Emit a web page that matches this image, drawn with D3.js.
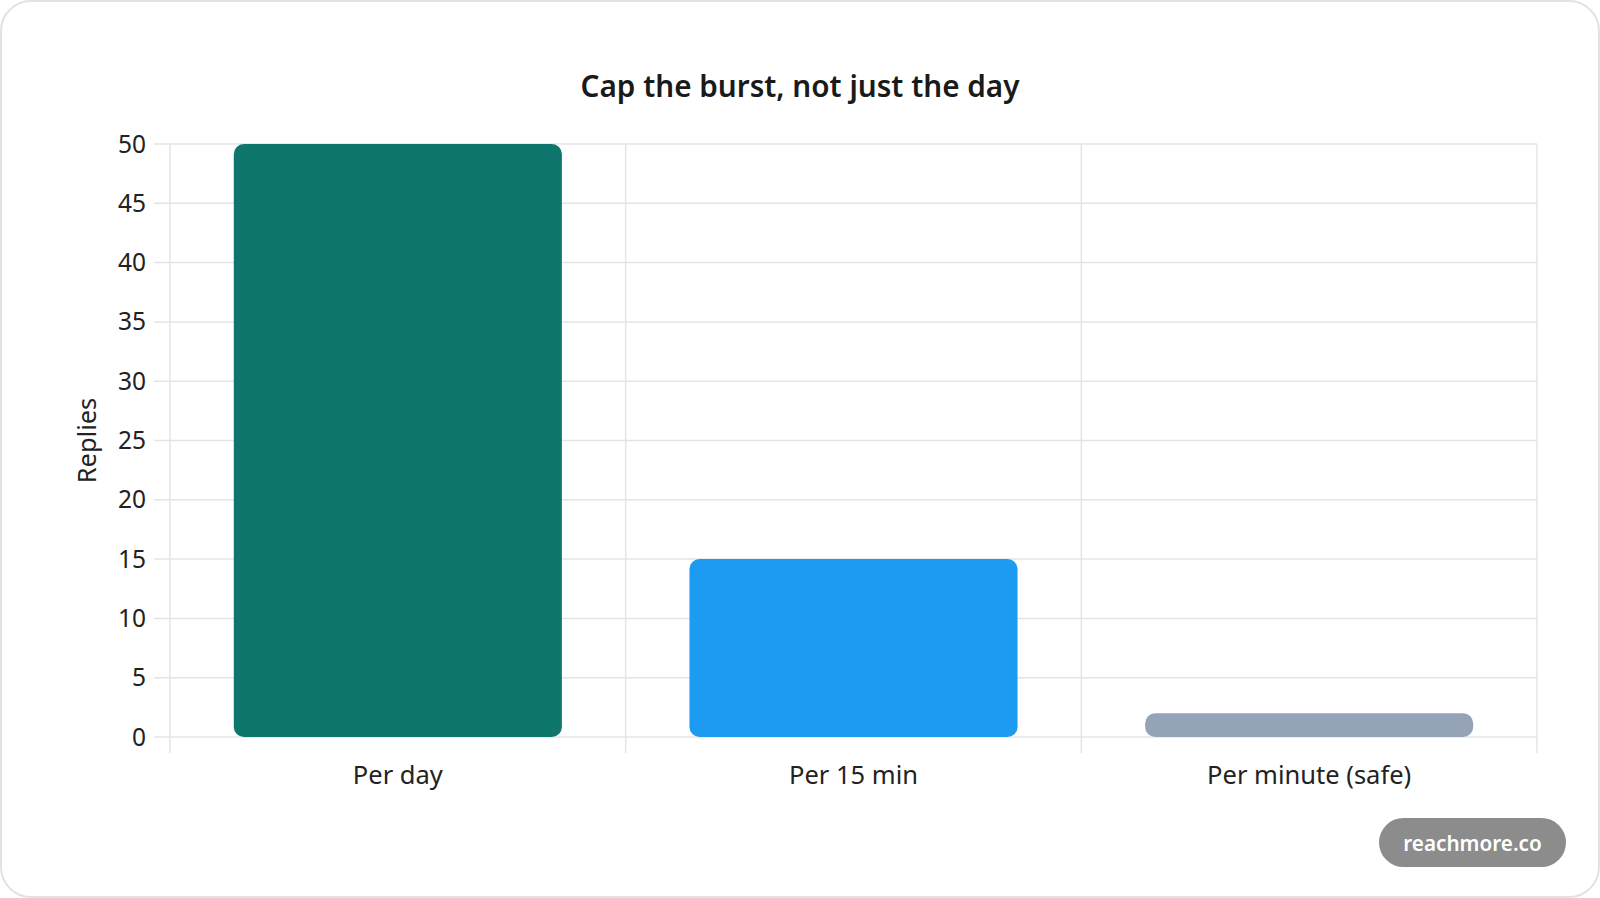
<!DOCTYPE html>
<html>
<head>
<meta charset="utf-8">
<script src="https://cdn.jsdelivr.net/npm/d3@7"></script>
<style>
  html, body { margin: 0; padding: 0; background: #ffffff; }
  svg { display: block; }
  text { font-family: "Noto Sans", "Open Sans", sans-serif; }
</style>
</head>
<body>
<svg id="chart" width="1600" height="898"></svg>
<script>
const categories = ["Per day", "Per 15 min", "Per minute (safe)"];
const replies = [50, 15, 2];
const barColors = ["#0F766E", "#1D9BF0", "#94A3B8"];
const yTicks = [0, 5, 10, 15, 20, 25, 30, 35, 40, 45, 50];
const titleText = "Cap the burst, not just the day";
const yAxisTitle = "Replies";
const watermark = "reachmore.co";

const W = 1600, H = 898;
const plot = { left: 170, right: 1537, top: 144, bottom: 737 };
const tickLen = 16;

const svg = d3.select("#chart");

// card
svg.append("rect")
  .attr("x", 1).attr("y", 1).attr("width", W - 2).attr("height", H - 2)
  .attr("rx", 30).attr("ry", 30)
  .attr("fill", "#ffffff").attr("stroke", "#e2e2e2").attr("stroke-width", 2);

const x = d3.scaleBand().domain(categories).range([plot.left, plot.right]).padding(0);
const y = d3.scaleLinear().domain([0, 50]).range([plot.bottom, plot.top]);

const grid = svg.append("g");
grid.selectAll("line.h").data(yTicks).join("line")
  .attr("x1", plot.left - tickLen).attr("x2", plot.right)
  .attr("y1", d => y(d)).attr("y2", d => y(d))
  .attr("stroke", "#e4e4e4").attr("stroke-width", 1.5);
const edges = categories.map(c => x(c)).concat([plot.right]);
grid.selectAll("line.v").data(edges).join("line")
  .attr("x1", d => d).attr("x2", d => d)
  .attr("y1", plot.top).attr("y2", plot.bottom + tickLen)
  .attr("stroke", "#e4e4e4").attr("stroke-width", 1.5);

// y tick labels
svg.append("g").selectAll("text").data(yTicks).join("text")
  .attr("x", plot.left - tickLen - 8)
  .attr("y", d => y(d) - 1)
  .attr("text-anchor", "end")
  .attr("dominant-baseline", "central")
  .attr("font-size", 24.5)
  .attr("fill", "#222")
  .text(d => d);

// x labels
svg.append("g").selectAll("text").data(categories).join("text")
  .attr("x", d => x(d) + x.bandwidth() / 2)
  .attr("y", 774)
  .attr("text-anchor", "middle")
  .attr("dominant-baseline", "central")
  .attr("font-size", 25.5)
  .attr("fill", "#222")
  .text(d => d);

// bars
const barW = x.bandwidth() * 0.72;
svg.append("g").selectAll("rect").data(categories).join("rect")
  .attr("x", d => x(d) + (x.bandwidth() - barW) / 2)
  .attr("y", (d, i) => y(replies[i]))
  .attr("width", barW)
  .attr("height", (d, i) => y(0) - y(replies[i]))
  .attr("rx", 10).attr("ry", 10)
  .attr("fill", (d, i) => barColors[i]);

// y axis title
svg.append("text")
  .attr("transform", `translate(86, ${(plot.top + plot.bottom) / 2}) rotate(-90)`)
  .attr("text-anchor", "middle")
  .attr("dominant-baseline", "central")
  .attr("font-size", 25.5)
  .attr("fill", "#222")
  .text(yAxisTitle);

// title
svg.append("text")
  .attr("x", 800).attr("y", 85)
  .attr("text-anchor", "middle")
  .attr("dominant-baseline", "central")
  .attr("font-size", 29.7)
  .attr("font-weight", 600)
  .attr("fill", "#1a1a1a")
  .text(titleText);

// watermark pill
const pill = svg.append("g");
pill.append("rect")
  .attr("x", 1379).attr("y", 818).attr("width", 187).attr("height", 49)
  .attr("rx", 24.5).attr("ry", 24.5)
  .attr("fill", "#8c8c8c");
pill.append("text")
  .attr("x", 1379 + 187 / 2).attr("y", 818 + 24.5)
  .attr("text-anchor", "middle")
  .attr("dominant-baseline", "central")
  .attr("font-size", 20.7)
  .attr("font-weight", 600)
  .attr("fill", "#ffffff")
  .text(watermark);
</script>
</body>
</html>
